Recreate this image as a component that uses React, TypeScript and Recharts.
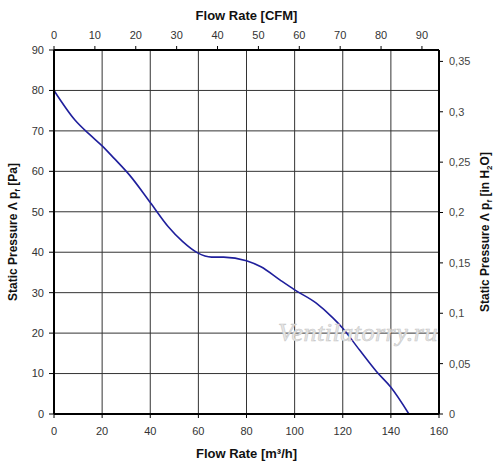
import React from 'react'
import { LineChart, Line, XAxis, YAxis, CartesianGrid } from 'recharts'

// curve: flow in m³/h, static pressure in Pa
const flow = [0, 8.7, 15, 20, 25, 31.5, 40, 47.5, 53.5, 59.5, 65.5, 70.5, 80, 86, 94, 100, 109, 116, 120, 127, 134, 140, 147.5]
const pressure = [80, 72.7, 69, 66.3, 63.2, 59, 52.3, 46.3, 42.6, 39.9, 38.8, 38.8, 37.9, 36.4, 33.1, 30.7, 27.4, 23.7, 21.2, 15.8, 10.5, 6.6, 0]

const m3Ticks = [0, 20, 40, 60, 80, 100, 120, 140, 160]
const cfmTicks = [0, 10, 20, 30, 40, 50, 60, 70, 80, 90]
const paTicks = [0, 10, 20, 30, 40, 50, 60, 70, 80, 90]
const inH2OTicks = [0, 0.05, 0.1, 0.15, 0.2, 0.25, 0.3, 0.35]

const M3_PER_CFM = 1.699
const PA_PER_INH2O = 249.0889
const MAX_FLOW = 160
const MAX_PA = 90

const data = flow.map((f, i) => ({
  flow: f,
  cfm: f / M3_PER_CFM,
  pressure: pressure[i],
  inh2o: pressure[i] / PA_PER_INH2O,
}))

const FONT = '"Liberation Sans", Arial, sans-serif'
const tickStyle = { fontSize: 11, fill: '#333', fontFamily: FONT }

function LeftTitle({ viewBox }: any) {
  const cx = viewBox.x + 17
  const cy = viewBox.y + viewBox.height / 2
  return (
    <text
      x={cx}
      y={cy}
      transform={`rotate(-90 ${cx} ${cy})`}
      textAnchor="middle"
      fontFamily={FONT}
      fontSize={12}
      fontWeight="bold"
      fill="#111"
    >
      Static Pressure Λ p<tspan fontSize={8} dy={3}>f</tspan>
      <tspan dy={-3}> [Pa]</tspan>
    </text>
  )
}

function RightTitle({ viewBox }: any) {
  const cx = viewBox.x + 50
  const cy = viewBox.y + viewBox.height / 2
  return (
    <text
      x={cx}
      y={cy}
      transform={`rotate(-90 ${cx} ${cy})`}
      textAnchor="middle"
      fontFamily={FONT}
      fontSize={12}
      fontWeight="bold"
      fill="#111"
    >
      Static Pressure Λ p<tspan fontSize={8} dy={3}>f</tspan>
      <tspan dy={-3}> [in H</tspan>
      <tspan fontSize={8} dy={3}>2</tspan>
      <tspan dy={-3}>O]</tspan>
    </text>
  )
}

export default function App() {
  return (
    <div style={{ position: 'absolute', left: 0, top: 0, width: 500, height: 472, background: '#fff' }}>
      <LineChart width={500} height={472} data={data} margin={{ top: 0, right: 0, bottom: 0, left: 0 }}>
        <CartesianGrid xAxisId="m3" yAxisId="pa" stroke="#333" strokeWidth={1} />
        <XAxis
          xAxisId="m3"
          dataKey="flow"
          type="number"
          domain={[0, MAX_FLOW]}
          ticks={m3Ticks}
          height={58}
          tick={tickStyle}
          tickSize={4}
          tickMargin={9}
          axisLine={{ stroke: '#000', strokeWidth: 2 }}
          tickLine={{ stroke: '#000' }}
          label={{
            value: 'Flow Rate [m³/h]',
            position: 'insideBottom',
            offset: 14,
            style: { fontFamily: FONT, fontSize: 13, fontWeight: 'bold', fill: '#111' },
          }}
        />
        <XAxis
          xAxisId="cfm"
          dataKey="cfm"
          orientation="top"
          type="number"
          domain={[0, MAX_FLOW / M3_PER_CFM]}
          allowDataOverflow
          ticks={cfmTicks}
          height={50}
          tick={tickStyle}
          tickSize={4}
          tickMargin={7}
          axisLine={{ stroke: '#000', strokeWidth: 2 }}
          tickLine={{ stroke: '#000' }}
          label={{
            value: 'Flow Rate [CFM]',
            position: 'insideTop',
            offset: 11,
            style: { fontFamily: FONT, fontSize: 13, fontWeight: 'bold', fill: '#111' },
          }}
        />
        <YAxis
          yAxisId="pa"
          dataKey="pressure"
          type="number"
          domain={[0, MAX_PA]}
          ticks={paTicks}
          width={54}
          tick={tickStyle}
          tickSize={5}
          tickMargin={5}
          axisLine={{ stroke: '#000', strokeWidth: 2 }}
          tickLine={{ stroke: '#000' }}
          label={{ content: LeftTitle }}
        />
        <YAxis
          yAxisId="inh2o"
          dataKey="inh2o"
          orientation="right"
          type="number"
          domain={[0, MAX_PA / PA_PER_INH2O]}
          allowDataOverflow
          ticks={inH2OTicks}
          width={61}
          tick={{ ...tickStyle, fill: '#444' }}
          tickFormatter={(v: number) => String(v).replace('.', ',')}
          tickSize={4}
          tickMargin={6}
          axisLine={{ stroke: '#000', strokeWidth: 2 }}
          tickLine={{ stroke: '#000' }}
          label={{ content: RightTitle }}
        />
        <Line
          xAxisId="m3"
          yAxisId="pa"
          type="monotone"
          dataKey="pressure"
          stroke="#1f1f9c"
          strokeWidth={1.6}
          dot={false}
          isAnimationActive={false}
        />
      </LineChart>
      <div
        style={{
          position: 'absolute',
          left: 278,
          top: 318,
          fontFamily: '"Liberation Serif", "DejaVu Serif", serif',
          fontStyle: 'italic',
          fontSize: 26,
          color: '#e6e6e6',
          WebkitTextStroke: '0.6px #c8c8c8',
          pointerEvents: 'none',
          letterSpacing: 0.5,
        }}
      >
        Ventilatorry.ru
      </div>
    </div>
  )
}
